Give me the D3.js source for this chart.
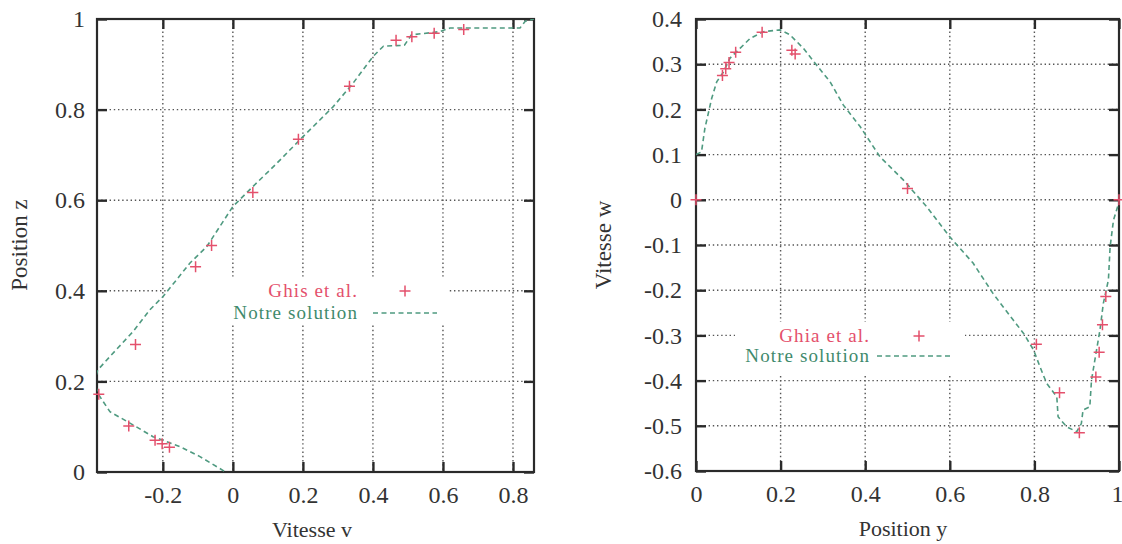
<!DOCTYPE html>
<html>
<head>
<meta charset="utf-8">
<script src="https://cdn.jsdelivr.net/npm/d3@7"></script>
<style>
  html, body { margin: 0; padding: 0; background: #ffffff; }
  svg { display: block; }
  text { font-family: "Liberation Serif", "Times New Roman", serif; }
</style>
</head>
<body>
<script>
// ---------------- DATA ----------------
// Left panel: profile v(z)
const leftGhiaV = [0.65928, 0.57492, 0.51117, 0.46604, 0.33304, 0.18719, 0.05702, -0.06080, -0.10648, -0.27805, -0.38289, -0.29730, -0.22220, -0.20196, -0.18109];
const leftGhiaZ = [0.9766, 0.9688, 0.9609, 0.9531, 0.8516, 0.7344, 0.6172, 0.5000, 0.4531, 0.2813, 0.1719, 0.1016, 0.0703, 0.0625, 0.0547];
const leftSolV = [-0.025, -0.094, -0.151, -0.19, -0.228, -0.294, -0.351, -0.37, -0.386, -0.395, -0.386, -0.351, -0.285, -0.237, -0.2, -0.161, -0.123, -0.075, 0.0, 0.057, 0.125, 0.191, 0.286, 0.343, 0.40, 0.43, 0.49, 0.51, 0.59, 0.62, 0.82, 0.835, 0.86];
const leftSolZ = [0.002, 0.034, 0.056, 0.067, 0.078, 0.108, 0.133, 0.155, 0.174, 0.2, 0.225, 0.255, 0.31, 0.358, 0.387, 0.424, 0.461, 0.497, 0.586, 0.63, 0.681, 0.733, 0.806, 0.858, 0.917, 0.94, 0.942, 0.965, 0.972, 0.98, 0.98, 0.995, 1.0];
const leftXTicks = [-0.2, 0, 0.2, 0.4, 0.6, 0.8];
const leftYTicks = [0, 0.2, 0.4, 0.6, 0.8, 1];

// Right panel: profile w(y)
const rightGhiaY = [1.0, 0.9688, 0.9609, 0.9531, 0.9453, 0.9063, 0.8594, 0.8047, 0.5000, 0.2344, 0.2266, 0.1563, 0.0938, 0.0781, 0.0703, 0.0625, 0.0];
const rightGhiaW = [0.0, -0.21388, -0.27669, -0.33714, -0.39188, -0.51550, -0.42665, -0.31966, 0.02526, 0.32235, 0.33075, 0.37095, 0.32627, 0.30353, 0.29012, 0.27485, 0.0];
const rightSolY = [0.0, 0.013, 0.021, 0.037, 0.049, 0.065, 0.080, 0.104, 0.128, 0.159, 0.199, 0.222, 0.254, 0.285, 0.317, 0.348, 0.388, 0.435, 0.490, 0.545, 0.600, 0.655, 0.702, 0.750, 0.774, 0.798, 0.813, 0.829, 0.853, 0.856, 0.876, 0.900, 0.911, 0.915, 0.931, 0.935, 0.943, 0.955, 0.963, 0.975, 0.979, 0.987, 0.999];
const rightSolW = [0.10, 0.106, 0.158, 0.224, 0.261, 0.283, 0.313, 0.335, 0.357, 0.372, 0.376, 0.365, 0.335, 0.298, 0.261, 0.210, 0.162, 0.095, 0.044, -0.015, -0.082, -0.140, -0.207, -0.266, -0.295, -0.332, -0.369, -0.406, -0.436, -0.480, -0.502, -0.513, -0.495, -0.465, -0.458, -0.399, -0.354, -0.288, -0.229, -0.177, -0.104, -0.045, -0.008];
const rightXTicks = [0, 0.2, 0.4, 0.6, 0.8, 1];
const rightYTicks = [-0.6, -0.5, -0.4, -0.3, -0.2, -0.1, 0, 0.1, 0.2, 0.3, 0.4];

// ---------------- STYLE ----------------
const RED = "#e4506c";
const GREEN_TXT = "#3f8a6c";
const GREEN_LINE = "#4f9a80";
const INK = "#2a2a2a";

const svg = d3.select("body").append("svg").attr("width", 1122).attr("height", 544);

function panel(opt) {
  const x = d3.scaleLinear().domain(opt.xDomain).range([opt.left, opt.right]);
  const y = d3.scaleLinear().domain(opt.yDomain).range([opt.bottom, opt.top]);
  const g = svg.append("g");
  const clipId = "clip" + opt.id;
  svg.append("clipPath").attr("id", clipId).append("rect")
    .attr("x", opt.left).attr("y", opt.top)
    .attr("width", opt.right - opt.left).attr("height", opt.bottom - opt.top);

  // grid
  const grid = g.append("g").attr("stroke", "#555").attr("stroke-width", 1.4).attr("stroke-dasharray", "1.4,2.8");
  grid.selectAll(".gx").data(opt.xTicks.filter(t => x(t) > opt.left + 2 && x(t) < opt.right - 2)).join("line")
    .attr("x1", d => x(d)).attr("x2", d => x(d)).attr("y1", opt.top).attr("y2", opt.bottom);
  grid.selectAll(".gy").data(opt.yTicks.filter(t => y(t) < opt.bottom - 2 && y(t) > opt.top + 2)).join("line")
    .attr("y1", d => y(d)).attr("y2", d => y(d)).attr("x1", opt.left).attr("x2", opt.right);

  // legend background (opaque key)
  g.append("rect").attr("x", opt.key.bx).attr("y", opt.key.by).attr("width", opt.key.bw).attr("height", opt.key.bh).attr("fill", "#fff");

  // axes (inward ticks)
  const fmt = d => String(+d.toFixed(2));
  const ax = g.append("g").attr("transform", `translate(0,${opt.bottom})`)
    .call(d3.axisBottom(x).tickValues(opt.xTicks).tickSize(-10).tickPadding(14).tickFormat(fmt));
  const ay = g.append("g").attr("transform", `translate(${opt.left},0)`)
    .call(d3.axisLeft(y).tickValues(opt.yTicks).tickSize(-10).tickPadding(opt.ypad).tickFormat(fmt));
  const at = g.append("g").attr("transform", `translate(0,${opt.top})`)
    .call(d3.axisTop(x).tickValues(opt.xTicks).tickSize(-10).tickFormat(""));
  const ar = g.append("g").attr("transform", `translate(${opt.right},0)`)
    .call(d3.axisRight(y).tickValues(opt.yTicks).tickSize(-10).tickFormat(""));
  [ax, ay, at, ar].forEach(a => {
    a.select(".domain").remove();
    a.selectAll("line").attr("stroke", INK).attr("stroke-width", 2.4);
    a.selectAll("text").attr("fill", "#333").attr("font-size", 24)
      .attr("font-family", '"Liberation Serif", serif');
  });
  // last x label flush with the right edge of the page if needed
  ax.selectAll(".tick text").filter(d => x(d) + 8 > 1122).attr("text-anchor", "end").attr("x", 1122 - x(opt.xTicks[opt.xTicks.length - 1]) + 1);

  // frame
  g.append("rect").attr("x", opt.left).attr("y", opt.top)
    .attr("width", opt.right - opt.left).attr("height", opt.bottom - opt.top)
    .attr("fill", "none").attr("stroke", INK).attr("stroke-width", 2.2);

  // solution curve
  const pts = opt.solX.map((v, i) => [v, opt.solY[i]]);
  g.append("path").attr("clip-path", `url(#${clipId})`)
    .attr("d", d3.line().x(d => x(d[0])).y(d => y(d[1]))(pts))
    .attr("fill", "none").attr("stroke", GREEN_LINE).attr("stroke-width", 1.6)
    .attr("stroke-dasharray", "5,3.5");

  // reference points (plus markers)
  const gp = opt.refX.map((v, i) => [v, opt.refY[i]])
    .filter(d => d[0] >= opt.xDomain[0] - 1e-9 && d[0] <= opt.xDomain[1] + 1e-9);
  const s = 5.5;
  g.append("g").selectAll("path").data(gp).join("path")
    .attr("d", d => `M${x(d[0]) - s},${y(d[1])}H${x(d[0]) + s}M${x(d[0])},${y(d[1]) - s}V${y(d[1]) + s}`)
    .attr("stroke", RED).attr("stroke-width", 1.5).attr("fill", "none");

  // legend
  const k = opt.key;
  g.append("text").attr("x", k.tx).attr("y", k.y1).attr("text-anchor", "end")
    .attr("fill", RED).attr("font-size", 19).attr("letter-spacing", 1.1).text(k.label1);
  g.append("text").attr("x", k.tx).attr("y", k.y2).attr("text-anchor", "end")
    .attr("fill", GREEN_TXT).attr("font-size", 19).attr("letter-spacing", 1.1).text(k.label2);
  g.append("path").attr("d", `M${k.px - s},${k.y1 - 6}H${k.px + s}M${k.px},${k.y1 - 6 - s}V${k.y1 - 6 + s}`)
    .attr("stroke", RED).attr("stroke-width", 1.5);
  g.append("line").attr("x1", k.l1).attr("x2", k.l2).attr("y1", k.y2 - 6).attr("y2", k.y2 - 6)
    .attr("stroke", GREEN_LINE).attr("stroke-width", 1.6).attr("stroke-dasharray", "5,3.5");

  // axis titles
  g.append("text").attr("x", opt.xt[0]).attr("y", opt.xt[1]).attr("text-anchor", "middle")
    .attr("font-size", 22).attr("fill", "#333").text(opt.xTitle);
  g.append("text").attr("transform", `translate(${opt.yt[0]},${opt.yt[1]}) rotate(-90)`)
    .attr("text-anchor", "middle").attr("font-size", 23).attr("fill", "#333").text(opt.yTitle);
}

panel({
  id: "L", left: 97, right: 534, top: 19, bottom: 472, ypad: 12,
  xDomain: [-0.388, 0.86], yDomain: [0, 1],
  xTicks: leftXTicks, yTicks: leftYTicks,
  solX: leftSolV, solY: leftSolZ, refX: leftGhiaV, refY: leftGhiaZ,
  key: { bx: 168, by: 277, bw: 280, bh: 47, tx: 358, y1: 297, y2: 319, px: 405, l1: 373, l2: 437,
         label1: "Ghis et al.", label2: "Notre solution" },
  xTitle: "Vitesse v", xt: [312, 537], yTitle: "Position z", yt: [27, 245]
});

panel({
  id: "R", left: 696, right: 1119, top: 19, bottom: 471, ypad: 14,
  xDomain: [0, 1], yDomain: [-0.6, 0.4],
  xTicks: rightXTicks, yTicks: rightYTicks,
  solX: rightSolY, solY: rightSolW, refX: rightGhiaY, refY: rightGhiaW,
  key: { bx: 735, by: 322, bw: 230, bh: 54, tx: 870, y1: 342, y2: 362, px: 919, l1: 877, l2: 952,
         label1: "Ghia et al.", label2: "Notre solution" },
  xTitle: "Position y", xt: [903, 536], yTitle: "Vitesse w", yt: [611, 245]
});
</script>
</body>
</html>
